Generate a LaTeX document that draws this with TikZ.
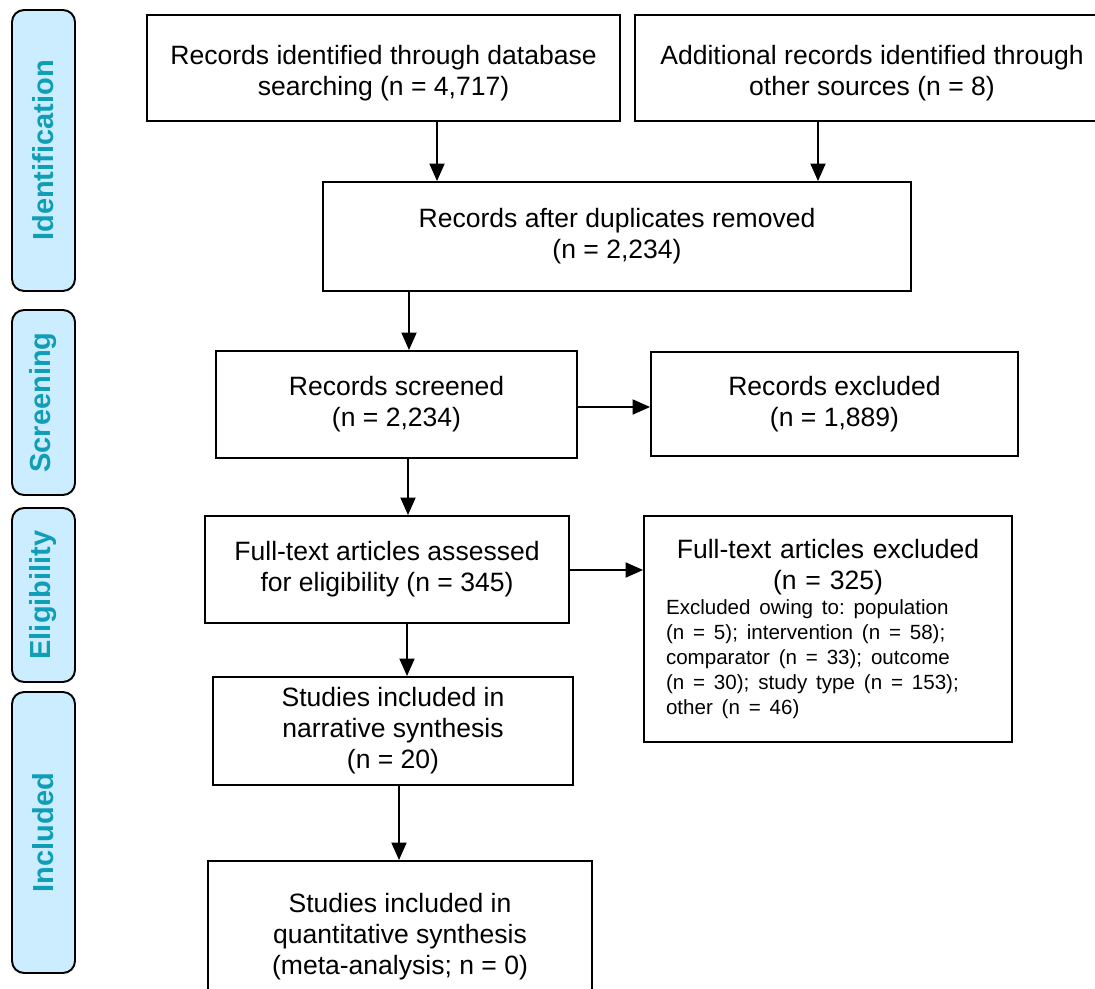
\documentclass[tikz,border=0pt]{standalone}
\usepackage{fontspec}
\setmainfont{Liberation Sans}
\usetikzlibrary{calc,arrows.meta}
\definecolor{stagefill}{RGB}{204,236,255}
\definecolor{stagetext}{RGB}{16,158,182}

\begin{document}
\begin{tikzpicture}[x=0.02cm,y=-0.02cm,stage/.style={draw,line width=1.1pt,rounded corners=0.24cm,fill=stagefill,minimum height=1.26cm,text=stagetext,font=\fontsize{16.5}{19}\selectfont\bfseries,rotate=90},record/.style={draw,line width=1.1pt,fill=white,align=center,inner sep=0pt,font=\fontsize{15.1}{17.6}\selectfont},arrow/.style={-{Triangle[length=0.35cm,width=0.3cm]},line width=1.1pt}]
  \useasboundingbox (0,0) rectangle (1095,989);
  \clip (0,0) rectangle (1095,989);
  % stages
  \node[stage,minimum width=5.62cm] (ident) at (43.5,150.5) {Identification};
  \node[stage,minimum width=3.7cm] (screen) at (43.5,402.5) {Screening};
  \node[stage,minimum width=3.48cm] (elig) at (43.5,595) {Eligibility};
  \node[stage,minimum width=5.62cm] (incl) at (43.5,832.5) {Included};
  % records
  \node[record,minimum width=9.46cm,minimum height=2.12cm] (database) at (383.5,68) {\rule{0pt}{17pt}Records identified through database\\searching (n = 4,717)};
  \node[record,minimum width=9.48cm,minimum height=2.12cm] (other) at (872,68) {\rule{0pt}{17pt}Additional records identified through\\other sources (n = 8)};
  \node[record,minimum width=11.76cm,minimum height=2.18cm] (dedup) at (617,236.5) {Records after duplicates removed\\(n = 2,234)};
  \node[record,minimum width=7.22cm,minimum height=2.14cm] (screened) at (396.5,404.5) {Records screened\\(n = 2,234)};
  \node[record,minimum width=7.34cm,minimum height=2.08cm] (excluded) at (834.5,404) {Records excluded\\(n = 1,889)};
  \node[record,minimum width=7.28cm,minimum height=2.14cm] (fulltext) at (387,569.5) {Full-text articles assessed\\for eligibility (n = 345)};
  \node[record,minimum width=7.36cm,minimum height=4.52cm,text width=6.48cm,align=left] (ftexcl) at (828,629) {\frenchspacing{\centering Full-text articles excluded\\(n = 325)\par}{\fontsize{11.7}{14.2}\selectfont Excluded owing to: population\\(n = 5); intervention (n = 58);\\comparator (n = 33); outcome\\(n = 30); study type (n = 153);\\other (n = 46)\par}};
  \node[record,minimum width=7.2cm,minimum height=2.16cm] (narrative) at (393,731) {Studies included in\\narrative synthesis\\(n = 20)};
  \node[record,minimum width=7.68cm,minimum height=3.04cm] (quant) at (400,937) {Studies included in\\quantitative synthesis\\(meta-analysis; n = 0)};
  % arrow starts
  \coordinate (dbout) at ($ (database.south) + (53.5,0) $);
  \coordinate (otherout) at ($ (other.south) + (-54,0) $);
  \coordinate (dedupout) at ($ (dedup.south) + (-208,0) $);
  \coordinate (scrright) at ($ (screened.east) + (0,2.5) $);
  \coordinate (scrout) at ($ (screened.south) + (11.5,0) $);
  \coordinate (ftright) at ($ (fulltext.east) + (0,0.5) $);
  \coordinate (ftout) at ($ (fulltext.south) + (20,0) $);
  \coordinate (narrout) at ($ (narrative.south) + (6,0) $);
  % arrows
  \draw[arrow] (dbout) -- (dbout |- dedup.north);
  \draw[arrow] (otherout) -- (otherout |- dedup.north);
  \draw[arrow] (dedupout) -- (dedupout |- screened.north);
  \draw[arrow] (scrright) -- (scrright -| excluded.west);
  \draw[arrow] (scrout) -- (scrout |- fulltext.north);
  \draw[arrow] (ftright) -- (ftright -| ftexcl.west);
  \draw[arrow] (ftout) -- (ftout |- narrative.north);
  \draw[arrow] (narrout) -- (narrout |- quant.north);
\end{tikzpicture}
\end{document}
